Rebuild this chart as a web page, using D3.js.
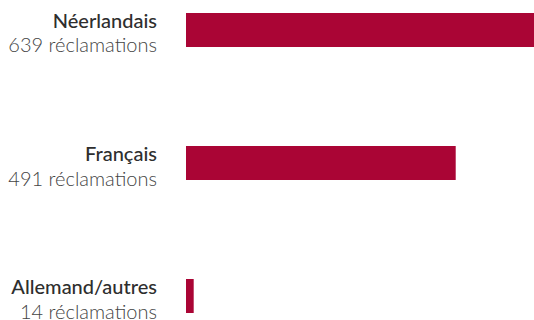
<!DOCTYPE html>
<html>
<head>
<meta charset="utf-8">
<script src="https://cdn.jsdelivr.net/npm/d3@7"></script>
<style>
  html, body { margin: 0; padding: 0; background: #fff; }
  svg { display: block; }
  .lang { font-family: Lato, "Noto Sans", sans-serif; font-weight: 500; fill: #2e2e2e; }
  .count { font-family: Lato, "Noto Sans", sans-serif; font-weight: 300; fill: #444; }
</style>
</head>
<body>
<svg id="chart" width="534" height="320"></svg>
<script>
// Claims by language
const languages = ["Néerlandais", "Français", "Allemand/autres"];
const claims = [639, 491, 14];
const unitLabel = "réclamations";

const svg = d3.select("#chart");

const x = d3.scaleLinear().domain([0, 639]).range([186, 537]);
const y = d3.scaleBand()
  .domain(languages)
  .range([13, 313])
  .paddingInner(0.7444)
  .paddingOuter(0);

const rows = svg.selectAll("g.row")
  .data(languages.map((l, i) => ({ lang: l, value: claims[i] })))
  .join("g")
  .attr("class", "row");

rows.append("rect")
  .attr("x", x(0))
  .attr("y", d => y(d.lang))
  .attr("width", d => x(d.value) - x(0))
  .attr("height", y.bandwidth())
  .attr("fill", "#aa0535");

const labelX = 157;
rows.append("text")
  .attr("class", "lang")
  .attr("x", labelX)
  .attr("y", d => y(d.lang) + y.bandwidth() / 2 - 2)
  .attr("text-anchor", "end")
  .attr("font-size", 20)
  .text(d => d.lang);

rows.append("text")
  .attr("class", "count")
  .attr("x", labelX)
  .attr("y", d => y(d.lang) + y.bandwidth() / 2 + 22.5)
  .attr("text-anchor", "end")
  .attr("font-size", 20)
  .text(d => `${d.value} ${unitLabel}`);
</script>
</body>
</html>
